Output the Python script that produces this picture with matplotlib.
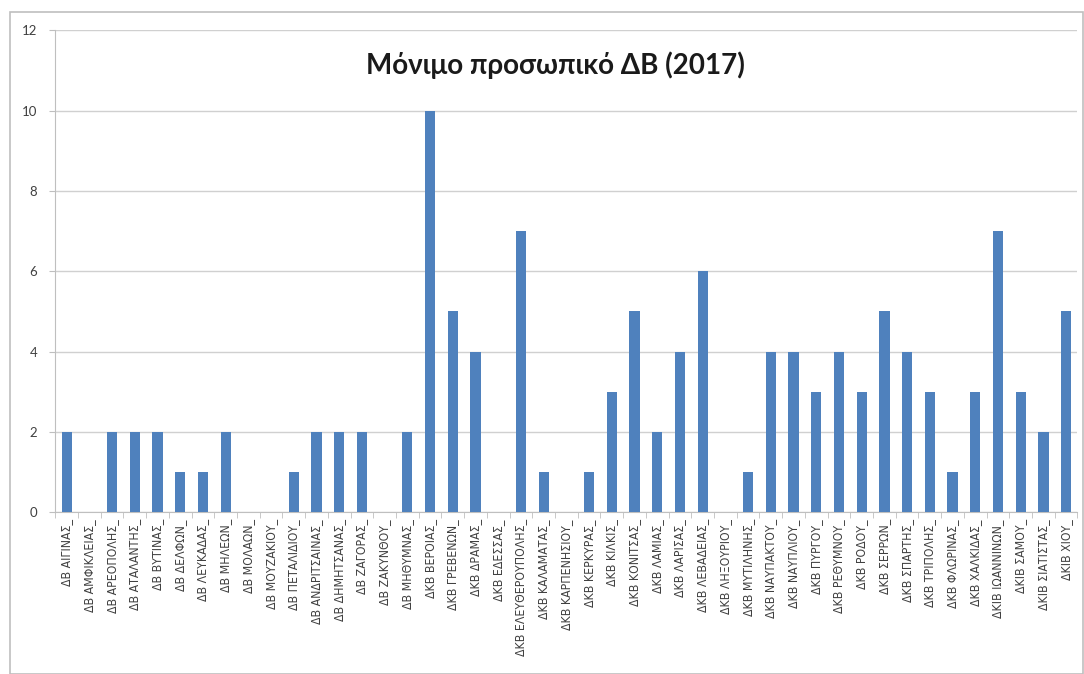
import numpy as np
import matplotlib.pyplot as plt
from matplotlib.patches import Rectangle

plt.rcParams['font.family'] = ['Lato', 'DejaVu Sans']

# data
names = ['ΔΒ ΑΙΓΙΝΑΣ', 'ΔΒ ΑΜΦΙΚΛΕΙΑΣ', 'ΔΒ ΑΡΕΟΠΟΛΗΣ', 'ΔΒ ΑΤΑΛΑΝΤΗΣ', 'ΔΒ ΒΥΤΙΝΑΣ',
         'ΔΒ ΔΕΛΦΩΝ', 'ΔΒ ΛΕΥΚΑΔΑΣ', 'ΔΒ ΜΗΛΕΩΝ', 'ΔΒ ΜΟΛΑΩΝ', 'ΔΒ ΜΟΥΖΑΚΙΟΥ',
         'ΔΒ ΠΕΤΑΛΙΔΙΟΥ', 'ΔΒ ΑΝΔΡΙΤΣΑΙΝΑΣ', 'ΔΒ ΔΗΜΗΤΣΑΝΑΣ', 'ΔΒ ΖΑΓΟΡΑΣ', 'ΔΒ ΖΑΚΥΝΘΟΥ',
         'ΔΒ ΜΗΘΥΜΝΑΣ', 'ΔΚΒ ΒΕΡΟΙΑΣ', 'ΔΚΒ ΓΡΕΒΕΝΩΝ', 'ΔΚΒ ΔΡΑΜΑΣ', 'ΔΚΒ ΕΔΕΣΣΑΣ',
         'ΔΚΒ ΕΛΕΥΘΕΡΟΥΠΟΛΗΣ', 'ΔΚΒ ΚΑΛΑΜΑΤΑΣ', 'ΔΚΒ ΚΑΡΠΕΝΗΣΙΟΥ', 'ΔΚΒ ΚΕΡΚΥΡΑΣ', 'ΔΚΒ ΚΙΛΚΙΣ',
         'ΔΚΒ ΚΟΝΙΤΣΑΣ', 'ΔΚΒ ΛΑΜΙΑΣ', 'ΔΚΒ ΛΑΡΙΣΑΣ', 'ΔΚΒ ΛΕΒΑΔΕΙΑΣ', 'ΔΚΒ ΛΗΞΟΥΡΙΟΥ',
         'ΔΚΒ ΜΥΤΙΛΗΝΗΣ', 'ΔΚΒ ΝΑΥΠΑΚΤΟΥ', 'ΔΚΒ ΝΑΥΠΛΙΟΥ', 'ΔΚΒ ΠΥΡΓΟΥ', 'ΔΚΒ ΡΕΘΥΜΝΟΥ',
         'ΔΚΒ ΡΟΔΟΥ', 'ΔΚΒ ΣΕΡΡΩΝ', 'ΔΚΒ ΣΠΑΡΤΗΣ', 'ΔΚΒ ΤΡΙΠΟΛΗΣ', 'ΔΚΒ ΦΛΩΡΙΝΑΣ',
         'ΔΚΒ ΧΑΛΚΙΔΑΣ', 'ΔΚΙΒ ΙΩΑΝΝΙΝΩΝ', 'ΔΚΙΒ ΣΑΜΟΥ', 'ΔΚΙΒ ΣΙΑΤΙΣΤΑΣ', 'ΔΚΙΒ ΧΙΟΥ']
staff = [2, 0, 2, 2, 2, 1, 1, 2, 0, 0, 1, 2, 2, 2, 0, 2, 10, 5, 4, 0,
         7, 1, 0, 1, 3, 5, 2, 4, 6, 0, 1, 4, 4, 3, 4, 3, 5, 4, 3, 1,
         3, 7, 3, 2, 5]
yticks = [0, 2, 4, 6, 8, 10, 12]

fig = plt.figure(figsize=(10.84, 6.74), dpi=100)
fig.patches.append(Rectangle((0.009, 0.0), 0.99, 0.982, transform=fig.transFigure,
                             fill=False, edgecolor='#bfbfbf', linewidth=1.2))
ax = fig.add_axes([0.051, 0.240, 0.943, 0.715])

x = np.arange(len(names))
ax.bar(x, staff, width=0.45, color='#4f81bd', zorder=3)

ax.set_xlim(-0.5, len(names) - 0.5)
ax.set_ylim(0, 12)
ax.set_yticks(yticks)
ax.set_yticklabels([str(v) for v in yticks], fontsize=9.5, color='#404040')
ax.yaxis.grid(True, color='#d0d0d0', linewidth=1, zorder=0)
ax.tick_params(axis='y', length=4, color='#bfbfbf', pad=9)

ax.set_xticks(x)
ax.set_xticklabels([n + '_' for n in names], rotation=90, fontsize=8.8,
                   color='#404040', family='DejaVu Sans', fontstretch='condensed')
ax.set_xticks(np.arange(-0.5, len(names)), minor=True)
ax.tick_params(axis='x', which='major', length=0, pad=5)
ax.tick_params(axis='x', which='minor', length=4, color='#bfbfbf')

for s in ['top', 'right']:
    ax.spines[s].set_visible(False)
ax.spines['left'].set_color('#bfbfbf')
ax.spines['bottom'].set_color('#bfbfbf')

fig.text(0.512, 0.904, 'Μόνιμο προσωπικό ΔΒ (2017)', ha='center', va='center',
         fontsize=20, fontweight='bold', color='#1a1a1a')

plt.savefig('out.png', dpi=100)
